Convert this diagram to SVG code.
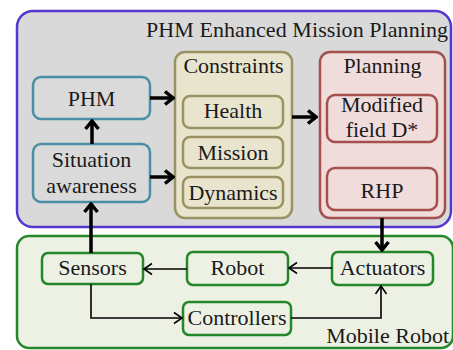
<svg xmlns="http://www.w3.org/2000/svg" width="453" height="350" viewBox="0 0 453 350">
<defs>
<style>
.teal{fill:#dadada;stroke:#4a8fa5;stroke-width:2.5}
.olive{fill:#e8e4cd;stroke:#9a9263;stroke-width:2.5}
.red{fill:#f1dcdc;stroke:#a5504e;stroke-width:2.5}
.grn{fill:#edf1e4;stroke:#24872a;stroke-width:2.5}
.thick{stroke:#000;stroke-width:3.5;fill:none;marker-end:url(#ah)}
.thin{stroke:#000;stroke-width:1.6;fill:none;marker-end:url(#at)}
</style>
<marker id="ah" markerUnits="userSpaceOnUse" viewBox="-12 -9 14 18" refX="0" refY="0" markerWidth="14" markerHeight="18" orient="auto">
<path d="M-8,-6.5 L0,0 L-8,6.5" fill="none" stroke="#000" stroke-width="3.5"/>
</marker>
<marker id="at" markerUnits="userSpaceOnUse" viewBox="-12 -9 14 18" refX="0" refY="0" markerWidth="14" markerHeight="18" orient="auto">
<path d="M-8,-5.5 L0,0 L-8,5.5" fill="none" stroke="#000" stroke-width="1.6"/>
</marker>
</defs>
<g font-family="Liberation Serif, serif" font-size="22" fill="#1a1a1a" text-anchor="middle">
<g id="phm-enhanced-mission-planning">
<rect x="17" y="11" width="434" height="216" rx="16" fill="#d9d9d9" stroke="#5636cf" stroke-width="2.5"/>
<text x="297" y="37" textLength="302" lengthAdjust="spacing">PHM Enhanced Mission Planning</text>
</g>
<g id="mobile-robot">
<rect x="17" y="236" width="436" height="112" rx="12" fill="#edf1e4" stroke="#24872a" stroke-width="2.5"/>
<text x="449" y="343" text-anchor="end">Mobile Robot</text>
</g>
<g id="phm">
<rect class="teal" x="33" y="77" width="117" height="42" rx="8"/>
<text x="91.5" y="106">PHM</text>
</g>
<g id="situation-awareness">
<rect class="teal" x="33" y="144" width="117" height="58" rx="8"/>
<text x="91.5" y="167">Situation</text>
<text x="91.5" y="193">awareness</text>
</g>
<g id="constraints">
<rect class="olive" x="175" y="52" width="117" height="166" rx="10"/>
<text x="233.5" y="73">Constraints</text>
</g>
<g id="health">
<rect class="olive" x="183" y="96" width="100" height="32" rx="7"/>
<text x="233" y="118">Health</text>
</g>
<g id="mission">
<rect class="olive" x="183" y="137" width="100" height="31" rx="7"/>
<text x="233" y="160">Mission</text>
</g>
<g id="dynamics">
<rect class="olive" x="183" y="177" width="100" height="31" rx="7"/>
<text x="233" y="200">Dynamics</text>
</g>
<g id="planning">
<rect class="red" x="320" y="52" width="125" height="166" rx="10"/>
<text x="382.5" y="73">Planning</text>
</g>
<g id="modified-field-d">
<rect class="red" x="327" y="95" width="110" height="47" rx="8"/>
<text x="382" y="112">Modified</text>
<text x="382" y="137">field D*</text>
</g>
<g id="rhp">
<rect class="red" x="327" y="168" width="110" height="42" rx="8"/>
<text x="382" y="198">RHP</text>
</g>
<g id="sensors">
<rect class="grn" x="42" y="253" width="101" height="31" rx="6"/>
<text x="92.5" y="275">Sensors</text>
</g>
<g id="robot">
<rect class="grn" x="187" y="252" width="101" height="33" rx="6"/>
<text x="237.5" y="275">Robot</text>
</g>
<g id="actuators">
<rect class="grn" x="332" y="252" width="101" height="33" rx="6"/>
<text x="382.5" y="275">Actuators</text>
</g>
<g id="controllers">
<rect class="grn" x="183" y="302" width="108" height="33" rx="6"/>
<text x="237" y="325">Controllers</text>
</g>
</g>
<g id="connectors">
<line class="thick" x1="92" y1="144" x2="92" y2="121"/>
<line class="thick" x1="150" y1="98" x2="173" y2="98"/>
<line class="thick" x1="150" y1="177" x2="173" y2="177"/>
<line class="thick" x1="292" y1="117" x2="316" y2="117"/>
<line class="thick" x1="382" y1="218" x2="382" y2="250"/>
<line class="thick" x1="91" y1="253" x2="91" y2="204"/>
<line class="thin" x1="332" y1="268" x2="289" y2="268"/>
<line class="thin" x1="187" y1="269" x2="144" y2="269"/>
<path class="thin" d="M91,284 V318 H182"/>
<path class="thin" d="M291,318 H381 V286"/>
</g>
</svg>
